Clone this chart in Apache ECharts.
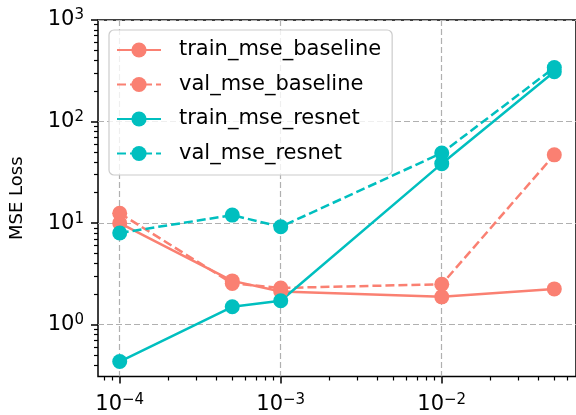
<!DOCTYPE html>
<html>
<head>
<meta charset="utf-8">
<script src="https://cdn.jsdelivr.net/npm/echarts@6/dist/echarts.min.js"></script>
<style>
html,body{margin:0;padding:0;background:#fff;}
#chart{width:576px;height:415px;}
</style>
</head>
<body>
<div id="chart"></div>
<script>
// Learning rates (x) and losses (y)
var learningRates = [1e-4, 5e-4, 1e-3, 1e-2, 5e-2];
var trainMseBaseline = [10.0, 2.7, 2.12, 1.88, 2.25];
var valMseBaseline = [12.5, 2.55, 2.3, 2.5, 47];
var trainMseResnet = [0.434, 1.5, 1.72, 38.5, 310];
var valMseResnet = [8.0, 12.0, 9.2, 49, 340];
var seriesNames = ['train_mse_baseline', 'val_mse_baseline', 'train_mse_resnet', 'val_mse_resnet'];

// Axis decades (log10 exponents)
var xMajorExp = [-4, -3, -2];
var yMajorExp = [0, 1, 2, 3];
var xLimits = [7.33e-5, 0.0682];
var yLimits = [0.309, 1000];

var SALMON = '#FA8072';
var TEAL = '#00BFBF';

function lg(v){ return Math.log10(v); }
function pairs(xs, ys){ return xs.map(function(x, i){ return [lg(x), lg(ys[i])]; }); }
function minorTicks(lim){
  var out = [];
  var lo = Math.floor(lg(lim[0])), hi = Math.ceil(lg(lim[1]));
  for (var e = lo; e < hi; e++) {
    for (var m = 2; m <= 9; m++) {
      var v = m * Math.pow(10, e);
      if (v >= lim[0] && v <= lim[1]) out.push(lg(v));
    }
  }
  return out;
}

var richLabel = {
  b: {fontSize: 21, fontFamily: 'DejaVu Sans', color: '#000', lineHeight: 24},
  s: {fontSize: 15, fontFamily: 'DejaVu Sans', color: '#000', lineHeight: 18, verticalAlign: 'top'}
};
function expLabel(v){
  var e = Math.round(v);
  return '{b|10}{s|' + (e < 0 ? '\u2212' : '') + Math.abs(e) + '}';
}

var gridLine = {show: true, lineStyle: {color: '#b0b0b0', width: 1.2, type: [6, 3]}};
var noLine = {show: false, onZero: false};

function mkSeries(name, data, color, dashed){
  return {
    name: name, type: 'line', data: data,
    symbol: 'circle', symbolSize: 15,
    itemStyle: {color: color},
    lineStyle: {color: color, width: 2.5, type: dashed ? [9, 4] : 'solid'},
    emphasis: {disabled: true}
  };
}

var chart = echarts.init(document.getElementById('chart'), null, {renderer: 'canvas'});
chart.setOption({
  animation: false,
  backgroundColor: '#fff',
  grid: {left: 98, right: -1, top: 20, bottom: 38, show: true, borderColor: '#000', borderWidth: 1.5, backgroundColor: 'transparent', containLabel: false},
  legend: {
    orient: 'vertical', left: 109, top: 30,
    backgroundColor: 'rgba(255,255,255,0.8)', borderColor: '#cccccc', borderWidth: 1.2, borderRadius: 5,
    padding: [9.5, 11, 11, 7],
    itemWidth: 44, itemHeight: 19, itemGap: 13.5,
    textStyle: {fontSize: 21, fontFamily: 'DejaVu Sans', color: '#000', lineHeight: 19, padding: [0, 0, 0, 13]},
    data: seriesNames
  },
  xAxis: [{
    type: 'value', min: lg(xLimits[0]), max: lg(xLimits[1]),
    axisLine: noLine,
    axisTick: {show: true, customValues: xMajorExp, length: 7, lineStyle: {color: '#000', width: 1.5}},
    axisLabel: {show: true, customValues: xMajorExp, margin: 16, formatter: expLabel, rich: richLabel},
    splitLine: gridLine
  }, {
    type: 'value', min: lg(xLimits[0]), max: lg(xLimits[1]), position: 'bottom',
    axisLine: noLine,
    axisTick: {show: true, customValues: minorTicks(xLimits), length: 4, lineStyle: {color: '#000', width: 1.2}},
    axisLabel: {show: false},
    splitLine: {show: false}
  }],
  yAxis: [{
    type: 'value', min: lg(yLimits[0]), max: lg(yLimits[1]),
    name: 'MSE Loss', nameLocation: 'middle', nameGap: 72,
    nameTextStyle: {fontSize: 18, fontFamily: 'DejaVu Sans', color: '#000'},
    axisLine: noLine,
    axisTick: {show: true, customValues: yMajorExp, length: 7, lineStyle: {color: '#000', width: 1.5}},
    axisLabel: {show: true, customValues: yMajorExp, margin: 14, formatter: expLabel, rich: richLabel, showMaxLabel: true, showMinLabel: true},
    splitLine: gridLine
  }, {
    type: 'value', min: lg(yLimits[0]), max: lg(yLimits[1]), position: 'left',
    axisLine: noLine,
    axisTick: {show: true, customValues: minorTicks(yLimits), length: 4, lineStyle: {color: '#000', width: 1.2}},
    axisLabel: {show: false},
    splitLine: {show: false}
  }],
  series: [
    mkSeries(seriesNames[0], pairs(learningRates, trainMseBaseline), SALMON, false),
    mkSeries(seriesNames[1], pairs(learningRates, valMseBaseline), SALMON, true),
    mkSeries(seriesNames[2], pairs(learningRates, trainMseResnet), TEAL, false),
    mkSeries(seriesNames[3], pairs(learningRates, valMseResnet), TEAL, true)
  ]
});
</script>
</body>
</html>
